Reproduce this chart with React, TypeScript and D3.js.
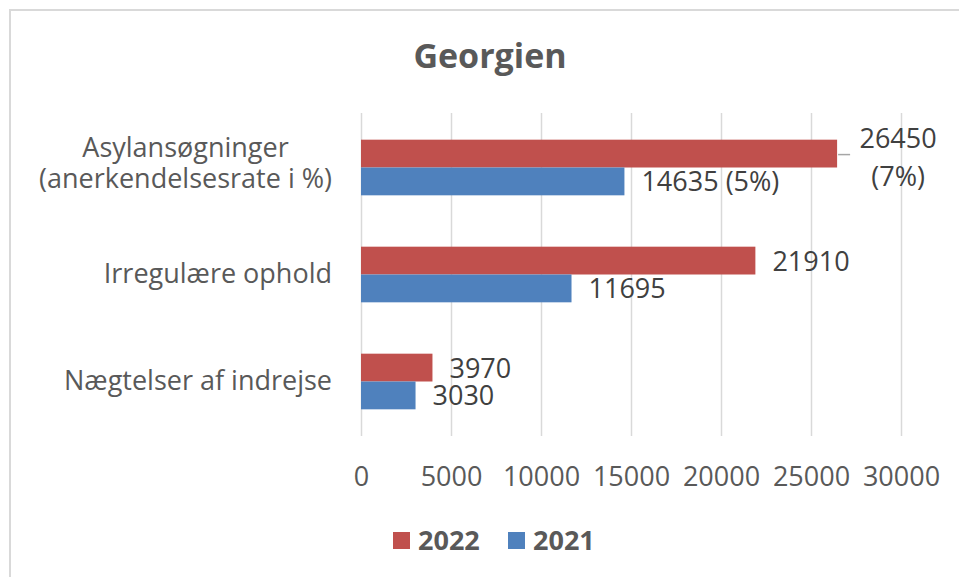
import React, { useRef, useEffect } from 'react'
import * as d3 from 'd3'

const title = 'Georgien'
const categories = ['Asylansøgninger\n(anerkendelsesrate i %)', 'Irregulære ophold', 'Nægtelser af indrejse']
const seriesNames = ['2022', '2021']
const values2022 = [26450, 21910, 3970]
const values2021 = [14635, 11695, 3030]
const labels2022 = ['26450\n(7%)', '21910', '3970']
const labels2021 = ['14635 (5%)', '11695', '3030']
const xTicks = [0, 5000, 10000, 15000, 20000, 25000, 30000]

const colors: Record<string, string> = { '2022': '#c0504d', '2021': '#4f81bd' }
const font = '"Open Sans", "Noto Sans", sans-serif'

export default function App() {
    const visEl = useRef<HTMLDivElement>(null)
    const width = 959
    const height = 577

    useEffect(() => {
        const root = d3.select(visEl.current)
        root.selectAll('*').remove()
        const svg = root.append('svg')
            .attr('width', width)
            .attr('height', height)
            .style('position', 'absolute')
            .style('left', 0)
            .style('top', 0)
            .style('font-family', font)

        svg.append('rect').attr('width', width).attr('height', height).attr('fill', '#fff')
        // chart border (runs off the right/bottom edge like the screenshot)
        svg.append('rect')
            .attr('x', 10).attr('y', 10)
            .attr('width', 980).attr('height', 600)
            .attr('fill', 'none').attr('stroke', '#d9d9d9').attr('stroke-width', 2)

        svg.append('text')
            .attr('x', 490).attr('y', 68)
            .attr('text-anchor', 'middle')
            .attr('font-size', 34).attr('font-weight', 700)
            .attr('fill', '#595959')
            .text(title)

        const margin = { top: 114, left: 361, right: 58, bottom: 142 }
        const innerWidth = width - margin.left - margin.right
        const innerHeight = height - margin.top - margin.bottom

        const xScale = d3.scaleLinear().domain([0, 30000]).range([0, innerWidth])
        const yScale = d3.scaleBand<string>().domain(categories).range([0, innerHeight])
            .paddingInner(0.48).paddingOuter(0.24)
        const subScale = d3.scaleBand<string>().domain(seriesNames).range([0, yScale.bandwidth()])

        const g = svg.append('g').attr('transform', `translate(${margin.left},${margin.top})`)

        const xAxis = d3.axisBottom(xScale).tickValues(xTicks).tickSize(-innerHeight - 2)
            .tickPadding(31).tickFormat(d => String(d))
        const xAxisG = g.append('g').attr('transform', `translate(0,${innerHeight + 1})`).call(xAxis)
        xAxisG.select('.domain').remove()
        xAxisG.selectAll('line').attr('stroke', '#d9d9d9').attr('stroke-width', 1.5)
        xAxisG.selectAll('text')
            .attr('font-family', font).attr('font-size', 27).attr('fill', '#595959')

        // category labels
        categories.forEach(c => {
            const lines = c.split('\n')
            const cy = yScale(c)! + yScale.bandwidth() / 2
            if (lines.length === 1) {
                g.append('text')
                    .attr('x', -29).attr('y', cy + 8)
                    .attr('text-anchor', 'end')
                    .attr('font-size', 27).attr('fill', '#595959')
                    .text(lines[0])
            } else {
                const t = g.append('text')
                    .attr('text-anchor', 'middle')
                    .attr('font-size', 27).attr('fill', '#595959')
                lines.forEach((l, i) => {
                    t.append('tspan').attr('y', cy - 11 + i * 31).text(l)
                })
                let maxW = 0
                t.selectAll<SVGTSpanElement, unknown>('tspan').each(function () {
                    maxW = Math.max(maxW, this.getComputedTextLength())
                })
                t.selectAll('tspan').attr('x', -29 - maxW / 2)
            }
        })

        const series = [
            { name: '2022', values: values2022, labels: labels2022 },
            { name: '2021', values: values2021, labels: labels2021 },
        ]

        series.forEach(s => {
            const rows = categories.map((c, i) => ({ c, v: s.values[i], label: s.labels[i] }))
            g.selectAll(null).data(rows).enter().append('rect')
                .attr('x', 0)
                .attr('y', d => yScale(d.c)! + subScale(s.name)!)
                .attr('width', d => xScale(d.v))
                .attr('height', subScale.bandwidth())
                .attr('fill', colors[s.name])

            rows.forEach(d => {
                const yMid = yScale(d.c)! + subScale(s.name)! + subScale.bandwidth() / 2
                const parts = d.label.split('\n')
                if (parts.length === 1) {
                    g.append('text')
                        .attr('x', xScale(d.v) + 17)
                        .attr('y', yMid + 10)
                        .attr('font-size', 27).attr('fill', '#404040')
                        .text(parts[0])
                } else {
                    // label pushed outside with a leader line
                    g.append('line')
                        .attr('x1', xScale(d.v) + 1).attr('x2', xScale(d.v) + 13)
                        .attr('y1', yMid + 1).attr('y2', yMid + 1)
                        .attr('stroke', '#a6a6a6').attr('stroke-width', 1.5)
                    const t = g.append('text')
                        .attr('text-anchor', 'middle')
                        .attr('font-size', 27).attr('fill', '#404040')
                    parts.forEach((p, i) => {
                        t.append('tspan')
                            .attr('x', xScale(d.v) + 61)
                            .attr('y', yMid - 6 + i * 38)
                            .text(p)
                    })
                }
            })
        })

        // legend
        const legendX = [393, 508]
        seriesNames.forEach((n, i) => {
            svg.append('rect')
                .attr('x', legendX[i]).attr('y', 532)
                .attr('width', 17).attr('height', 17)
                .attr('fill', colors[n])
            svg.append('text')
                .attr('x', legendX[i] + 25).attr('y', 550)
                .attr('font-size', 27).attr('font-weight', 700).attr('fill', '#595959')
                .text(n)
        })
    }, [])

    return (
        <div>
            <div ref={visEl}></div>
        </div>
    )
}
